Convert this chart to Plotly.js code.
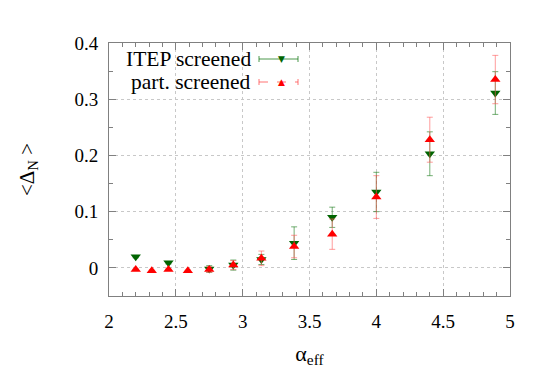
<!DOCTYPE html>
<html>
<head>
<meta charset="utf-8">
<script src="https://cdn.plot.ly/plotly-3.0.1.min.js"></script>
<style>
  html, body { margin: 0; padding: 0; background: #fff; }
  #chart { width: 550px; height: 385px; }
</style>
</head>
<body>
<div id="chart"></div>
<script>
// ITEP screened (down triangles)
const itepAlpha = [2.2, 2.445, 2.75, 2.93, 3.14, 3.385, 3.67, 4.0, 4.4, 4.89];
const itepDelta = [0.020, 0.009, -0.002, 0.005, 0.015, 0.044, 0.090, 0.135, 0.203, 0.311];
const itepErr   = [0.002, 0.002, 0.006, 0.009, 0.009, 0.029, 0.018, 0.035, 0.039, 0.038];

// part. screened (up triangles)
const partAlpha = [2.2, 2.32, 2.445, 2.59, 2.75, 2.93, 3.14, 3.385, 3.67, 4.0, 4.4, 4.89];
const partDelta = [-0.003, -0.005, -0.003, -0.005, -0.003, 0.005, 0.017, 0.038, 0.060, 0.126, 0.228, 0.335];
const partErr   = [0.001, 0.001, 0.001, 0.001, 0.005, 0.008, 0.013, 0.020, 0.027, 0.038, 0.040, 0.043];

const xTicks = [2, 2.5, 3, 3.5, 4, 4.5, 5];
const xTickText = ['2', '2.5', '3', '3.5', '4', '4.5', '5'];
const yTicks = [0, 0.1, 0.2, 0.3, 0.4];
const yTickText = ['0', '0.1', '0.2', '0.3', '0.4'];

const seriesNames = ['ITEP screened', 'part. screened'];

const green = '#006400';
const red = '#ff0000';

const traces = [
  {
    x: itepAlpha, y: itepDelta, name: seriesNames[0],
    type: 'scatter', mode: 'markers',
    marker: { symbol: 'triangle-down', size: 9, color: green },
    error_y: { type: 'data', array: itepErr, visible: true, color: 'rgba(0,110,0,0.55)', thickness: 1, width: 3 }
  },
  {
    x: partAlpha, y: partDelta, name: seriesNames[1],
    type: 'scatter', mode: 'markers',
    marker: { symbol: 'triangle-up', size: 9, color: red },
    error_y: { type: 'data', array: partErr, visible: true, color: 'rgba(255,90,90,0.6)', thickness: 1, width: 3 }
  }
];

// gnuplot-style key: text on the left, sample on the right
const serif = 'Liberation Serif';
const W = 550, H = 385;
const M = { l: 109, r: 40, t: 43, b: 89 };
const PW = W - M.l - M.r, PH = H - M.t - M.b;
// pixel -> paper (paper = plot area)
const px = v => (v - M.l) / PW;
const py = v => (H - M.b - v) / PH;

const keyRows = [
  { y: 59, color: 'rgba(0,110,0,0.7)', dash: 'solid', mark: green, sym: '▼' },
  { y: 82, color: 'rgba(255,80,80,0.8)', dash: 'dash', mark: red, sym: '▲' }
];

const shapes = [];
const annotations = [];
keyRows.forEach((row, i) => {
  annotations.push({
    xref: 'paper', yref: 'paper', x: px(253), y: py(row.y),
    xanchor: 'right', yanchor: 'middle', showarrow: false,
    text: seriesNames[i], font: { family: serif, size: 21.5, color: '#000' }
  });
  shapes.push({ type: 'line', xref: 'paper', yref: 'paper',
    x0: px(259), x1: px(298), y0: py(row.y), y1: py(row.y),
    line: { color: row.color, width: 1, dash: row.dash } });
  [259, 298].forEach(xx => shapes.push({ type: 'line', xref: 'paper', yref: 'paper',
    x0: px(xx), x1: px(xx), y0: py(row.y - 3), y1: py(row.y + 3),
    line: { color: row.color, width: 1 } }));
  annotations.push({
    xref: 'paper', yref: 'paper', x: px(281), y: py(row.y),
    xanchor: 'center', yanchor: 'middle', showarrow: false,
    text: row.sym, font: { family: 'DejaVu Sans', size: 9, color: row.mark }
  });
});

const axisCommon = {
  showline: true, linecolor: '#808080', linewidth: 1, mirror: 'ticks',
  ticks: 'inside', ticklen: 7, tickcolor: '#808080',
  showgrid: true, gridcolor: '#c8c8c8', griddash: 'dot', gridwidth: 1,
  zeroline: false,
  tickfont: { family: serif, size: 19, color: '#000' }
};

const layout = {
  width: W, height: H,
  margin: M,
  paper_bgcolor: '#fff', plot_bgcolor: '#fff',
  showlegend: false,
  xaxis: {
    ...axisCommon,
    range: [2, 5],
    tickvals: xTicks, ticktext: xTickText,
    ticklabelstandoff: 8,
    minor: { dtick: 0.1, ticks: 'inside', ticklen: 4, tickcolor: '#808080', showgrid: false },
    title: { text: 'α<sub>eff</sub>', font: { family: serif, size: 22, color: '#000' }, standoff: 14 }
  },
  yaxis: {
    ...axisCommon,
    range: [-0.05, 0.4],
    tickvals: yTicks, ticktext: yTickText,
    ticklabelstandoff: 6,
    minor: { dtick: 0.05, ticks: 'inside', ticklen: 4, tickcolor: '#808080', showgrid: false },
    title: { text: '<Δ<sub>N</sub> >', font: { family: serif, size: 21, color: '#000' }, standoff: 34 }
  },
  shapes: shapes,
  annotations: annotations
};

Plotly.newPlot('chart', traces, layout, { displayModeBar: false, staticPlot: true });
</script>
</body>
</html>
